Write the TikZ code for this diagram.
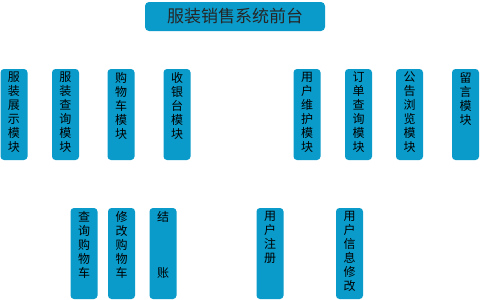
\documentclass[tikz,border=0pt]{standalone}
\usepackage{fontspec}
\setmainfont{Noto Sans CJK SC}
\definecolor{boxblue}{HTML}{0A9BCB}
\tikzset{
  vbox/.style={fill=boxblue, rounded corners=3.5pt, inner sep=0pt, outer sep=0pt},
  titlebox/.style={fill=boxblue, rounded corners=4pt, minimum width=180pt, minimum height=29pt, inner sep=0pt, font=\fontsize{17}{20}\selectfont, text=black!85}
}
\newcommand{\vtxt}[1]{\parbox[t][91pt][t]{27pt}{\centering\fontsize{12}{14}\selectfont\vspace*{3pt}#1}}
\begin{document}
\begin{tikzpicture}[x=1pt,y=-1pt]
\useasboundingbox (0,0) rectangle (480,300);
\node[titlebox] (title) at (235,16.5) {服装销售系统前台};
% top row
\node[vbox] (m1) at (14,114.5) {\vtxt{服\\装\\展\\示\\模\\块}};
\node[vbox] (m2) at (65.5,114.5) {\vtxt{服\\装\\查\\询\\模\\块}};
\node[vbox] (m3) at (121,114.5) {\vtxt{购\\物\\车\\模\\块}};
\node[vbox] (m4) at (177,114.5) {\vtxt{收\\银\\台\\模\\块}};
\node[vbox] (m5) at (307,114.5) {\vtxt{用\\户\\维\\护\\模\\块}};
\node[vbox] (m6) at (358.5,114.5) {\vtxt{订\\单\\查\\询\\模\\块}};
\node[vbox] (m7) at (409.5,114.5) {\vtxt{公\\告\\浏\\览\\模\\块}};
\node[vbox] (m8) at (465.5,114.5) {\vtxt{留\\言\\模\\块}};
% bottom row
\node[vbox] (s1) at (84,253.5) {\vtxt{查\\询\\购\\物\\车}};
\node[vbox] (s2) at (121.5,253.5) {\vtxt{修\\改\\购\\物\\车}};
\node[vbox] (s3) at (163,253.5) {\vtxt{结\\[42pt]账}};
\node[vbox] (s4) at (270,253.5) {\vtxt{用\\户\\注\\册}};
\node[vbox] (s5) at (349.5,253.5) {\vtxt{用\\户\\信\\息\\修\\改}};
\end{tikzpicture}
\end{document}
